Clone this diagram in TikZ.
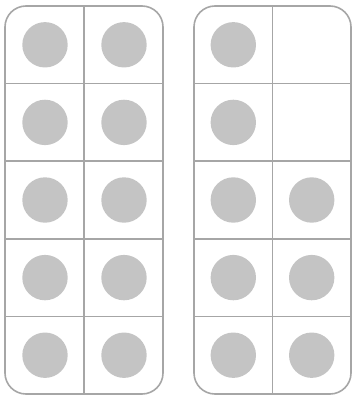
\documentclass[tikz,border=0pt]{standalone}
\usepackage{tikz}
\begin{document}
\begin{tikzpicture}[x=1pt,y=-1pt]
  \useasboundingbox (0,0) rectangle (352,396);
  % left frame, all ten cells filled
  \foreach \c in {0,1}
    \foreach \r in {0,...,4}
      \fill[black!23] (45+79*\c,44.8+77.6*\r) circle (22.7);
  \foreach \r in {1,...,4}
    \draw[black!35,line width=1.6pt] (5,6+77.6*\r) -- (163,6+77.6*\r);
  \draw[black!35,line width=1.6pt] (84,6) -- (84,394);
  \draw[black!35,line width=1.6pt,rounded corners=21pt] (5,6) rectangle (163,394);
  % right frame, eight cells filled
  \foreach \r in {0,...,4}
    \fill[black!23] (233.3,44.8+77.6*\r) circle (22.7);
  \foreach \r in {2,3,4}
    \fill[black!23] (311.7,44.8+77.6*\r) circle (22.7);
  \foreach \r in {1,...,4}
    \draw[black!35,line width=1.6pt] (194,6+77.6*\r) -- (351,6+77.6*\r);
  \draw[black!35,line width=1.6pt] (272.5,6) -- (272.5,394);
  \draw[black!35,line width=1.6pt,rounded corners=21pt] (194,6) rectangle (351,394);
\end{tikzpicture}
\end{document}
